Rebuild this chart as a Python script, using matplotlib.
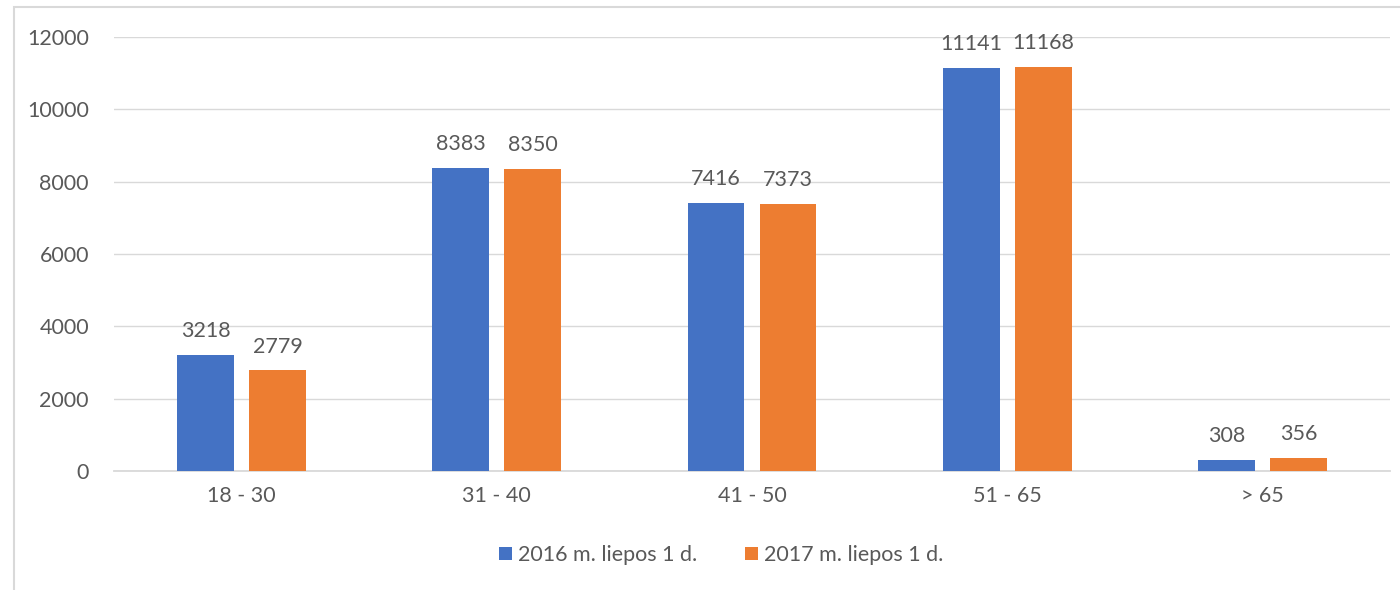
import matplotlib
matplotlib.use("Agg")
import matplotlib.pyplot as plt
import numpy as np
from matplotlib.patches import Rectangle

categories = ["18 - 30", "31 - 40", "41 - 50", "51 - 65", "> 65"]
series_2016 = [3218, 8383, 7416, 11141, 308]
series_2017 = [2779, 8350, 7373, 11168, 356]
labels = ["2016 m. liepos 1 d.", "2017 m. liepos 1 d."]
yticks = [0, 2000, 4000, 6000, 8000, 10000, 12000]

plt.rcParams['font.family'] = ['Lato', 'DejaVu Sans']
txt = '#595959'
blue = '#4472C4'
orange = '#ED7D31'
fs = 15.5

fig = plt.figure(figsize=(14, 5.9), dpi=100)
ax = fig.add_axes([114/1400, 1-471/590, 1276/1400, 434/590])

x = np.arange(len(categories))
w = 0.223
off = 0.141
b1 = ax.bar(x - off, series_2016, w, color=blue, label=labels[0], zorder=3)
b2 = ax.bar(x + off, series_2017, w, color=orange, label=labels[1], zorder=3)

for bars, vals in ((b1, series_2016), (b2, series_2017)):
    for rect, v in zip(bars, vals):
        ax.annotate(str(v), (rect.get_x() + rect.get_width()/2, v),
                    xytext=(0, 10), textcoords='offset points',
                    ha='center', va='bottom', fontsize=fs, color=txt)

ax.set_xlim(-0.5, len(categories) - 0.5)
ax.set_ylim(0, 12000)
ax.set_yticks(yticks)
ax.set_yticklabels([str(t) for t in yticks])
ax.set_xticks(x)
ax.set_xticklabels(categories)
ax.tick_params(axis='both', length=0, labelsize=fs, colors=txt)
ax.tick_params(axis='y', pad=18)
ax.tick_params(axis='x', pad=11)
ax.grid(axis='y', color='#d9d9d9', linewidth=1, zorder=0)
for s in ['top', 'right', 'left']:
    ax.spines[s].set_visible(False)
ax.spines['bottom'].set_color('#d9d9d9')
ax.spines['bottom'].set_linewidth(1.3)

leg = fig.legend(loc='center', bbox_to_anchor=(0.515, 1-555/590), ncol=2, frameon=False,
                 fontsize=fs, handlelength=0.6, handleheight=0.6, handletextpad=0.3,
                 columnspacing=2.2)
for t in leg.get_texts():
    t.set_color(txt)

fig.patches.append(Rectangle((13.5/1400, -0.1), 1.2, 1 - 7.5/590 + 0.1, transform=fig.transFigure,
                             fill=False, edgecolor='#d9d9d9', linewidth=1.5))

fig.savefig('out.png', dpi=100)
